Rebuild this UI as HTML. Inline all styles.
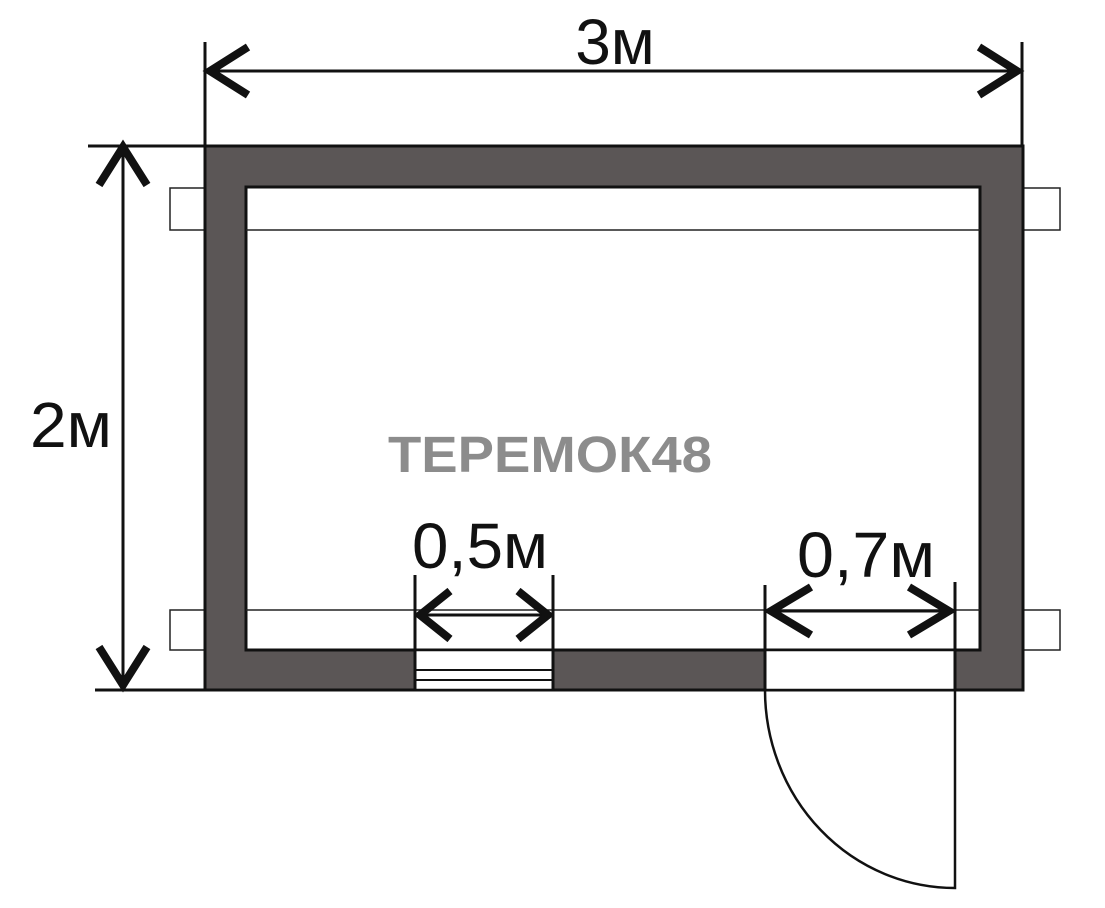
<!DOCTYPE html>
<html><head><meta charset="utf-8"><style>html,body{margin:0;padding:0;background:#fff}svg{display:block}</style></head>
<body>
<svg width="1105" height="908" viewBox="0 0 1105 908" xmlns="http://www.w3.org/2000/svg">
<rect width="1105" height="908" fill="#fff"/>
<!-- beams -->
<g fill="#fff" stroke="#222" stroke-width="1.5">
<rect x="170" y="188" width="36" height="42"/>
<rect x="1022" y="188" width="38" height="42"/>
<rect x="170" y="610" width="36" height="40"/>
<rect x="1022" y="610" width="38" height="40"/>
</g>
<!-- walls -->
<path d="M205 146H1023V690H205Z M246 187V650H980V187Z" fill="#5b5656" fill-rule="evenodd" stroke="#111" stroke-width="3"/>
<line x1="246" y1="230" x2="980" y2="230" stroke="#222" stroke-width="1.5"/>
<line x1="246" y1="610" x2="980" y2="610" stroke="#222" stroke-width="1.5"/>
<!-- window -->
<rect x="415" y="650" width="138" height="40" fill="#fff" stroke="#111" stroke-width="2.5"/>
<line x1="415" y1="670" x2="553" y2="670" stroke="#111" stroke-width="2"/>
<line x1="415" y1="680" x2="553" y2="680" stroke="#111" stroke-width="2"/>
<!-- door -->
<rect x="765" y="650" width="190" height="40" fill="#fff" stroke="#111" stroke-width="2.5"/>
<path d="M765 690 A190 198 0 0 0 955 888 L955 690" fill="none" stroke="#111" stroke-width="2.5"/>
<!-- dimension lines -->
<g stroke="#111" fill="none">
<line x1="205" y1="42" x2="205" y2="146" stroke-width="3"/>
<line x1="1022" y1="42" x2="1022" y2="146" stroke-width="3"/>
<line x1="207" y1="71" x2="1020" y2="71" stroke-width="3"/>
<line x1="88" y1="146" x2="205" y2="146" stroke-width="3"/>
<line x1="95" y1="690" x2="205" y2="690" stroke-width="3"/>
<line x1="123" y1="144" x2="123" y2="688" stroke-width="3"/>
<line x1="415" y1="575" x2="415" y2="690" stroke-width="3"/>
<line x1="553" y1="575" x2="553" y2="690" stroke-width="3"/>
<line x1="415" y1="615" x2="553" y2="615" stroke-width="3"/>
<line x1="765" y1="585" x2="765" y2="690" stroke-width="3"/>
<line x1="955" y1="582" x2="955" y2="690" stroke-width="3"/>
<line x1="765" y1="611" x2="955" y2="611" stroke-width="3"/>
<g stroke-width="8" stroke-linecap="butt" stroke-linejoin="miter">
<polyline points="248,47 210,71 248,95"/>
<polyline points="979,47 1017,71 979,95"/>
<polyline points="99,185 123,147 147,185"/>
<polyline points="99,647 123,685 147,647"/>
<polyline points="450,591 420,615 450,639"/>
<polyline points="518,591 548,615 518,639"/>
<polyline points="811,587 771,611 811,635"/>
<polyline points="909,587 949,611 909,635"/>
</g>
</g>
<!-- text -->
<g font-family="Liberation Sans, sans-serif" fill="#111">
<text x="615" y="64" font-size="64" text-anchor="middle">3м</text>
<text x="30" y="447" font-size="64" textLength="82" lengthAdjust="spacingAndGlyphs">2м</text>
<text x="412" y="568" font-size="64" textLength="136" lengthAdjust="spacingAndGlyphs">0,5м</text>
<text x="797" y="577" font-size="64" textLength="138" lengthAdjust="spacingAndGlyphs">0,7м</text>
<text x="388" y="472" font-size="51" font-weight="bold" fill="#8c8c8c" textLength="324" lengthAdjust="spacingAndGlyphs">ТЕРЕМОК48</text>
</g>
</svg>
</body></html>
